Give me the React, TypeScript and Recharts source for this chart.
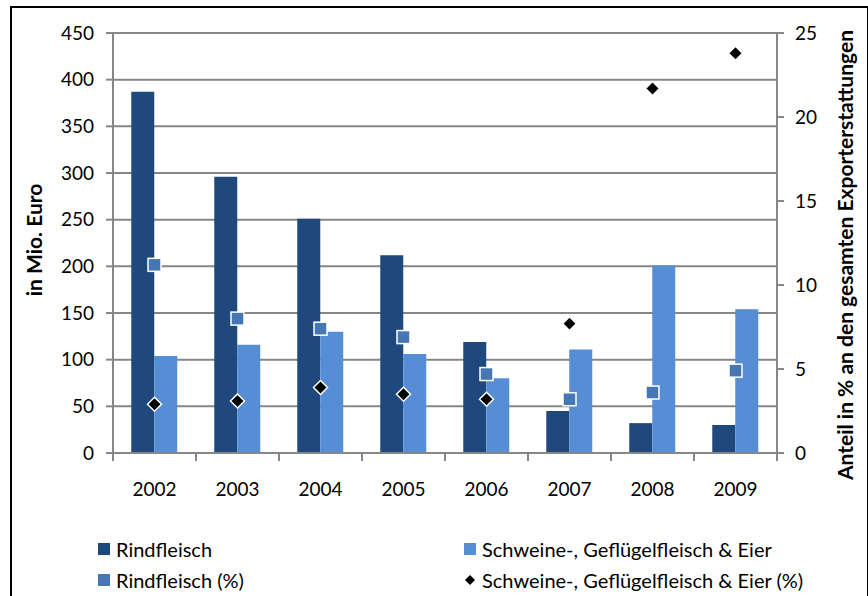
import React from 'react';
import { ComposedChart, Bar, Line, XAxis, YAxis, CartesianGrid } from 'recharts';

// Exporterstattungen 2002–2009
const years = ['2002', '2003', '2004', '2005', '2006', '2007', '2008', '2009'];
const rindfleisch = [387, 296, 251, 212, 119, 45, 32, 30];
const schweine = [104, 116, 130, 106, 80, 111, 201, 154];
const rindfleischPct = [11.2, 8.0, 7.4, 6.9, 4.7, 3.2, 3.6, 4.9];
const schweinePct = [2.9, 3.1, 3.9, 3.5, 3.2, 7.7, 21.7, 23.8];

const leftTicks = [0, 50, 100, 150, 200, 250, 300, 350, 400, 450];
const rightTicks = [0, 5, 10, 15, 20, 25];

const seriesNames = [
  'Rindfleisch',
  'Schweine-, Geflügelfleisch & Eier',
  'Rindfleisch (%)',
  'Schweine-, Geflügelfleisch & Eier (%)',
];

const data = years.map((year, i) => ({
  year,
  rind: rindfleisch[i],
  schwein: schweine[i],
  rindPct: rindfleischPct[i],
  schweinPct: schweinePct[i],
}));

const W = 868;
const H = 596;
const LEFT_AXIS_W = 113;
const RIGHT_AXIS_W = 91;
const PLOT_W = W - LEFT_AXIS_W - RIGHT_AXIS_W;
const BAND = PLOT_W / years.length;

const DARK = '#1F497D';
const LIGHT = '#558ED5';
const MID = '#4677B4';
const AXIS = '#868686';
const FONT = 'Lato, "Open Sans", sans-serif';
const TICK_FS = 19;

const SquareDot = (props: any) => {
  const { cx, cy, index } = props;
  if (cx == null || cy == null) return null;
  const s = 13;
  return (
    <rect
      key={`sq-${index}`}
      x={cx - s / 2}
      y={cy - s / 2}
      width={s}
      height={s}
      fill={MID}
      stroke="#fff"
      strokeWidth={1.5}
    />
  );
};

const DiamondDot = (props: any) => {
  const { cx, cy, index } = props;
  if (cx == null || cy == null) return null;
  const r = 7;
  return (
    <path
      key={`dm-${index}`}
      d={`M${cx},${cy - r} L${cx + r},${cy} L${cx},${cy + r} L${cx - r},${cy} Z`}
      fill="#000"
      stroke="#fff"
      strokeWidth={1.5}
    />
  );
};

const YearTick = (props: any) => {
  const { x, y, payload, index } = props;
  const half = BAND / 2;
  const last = index === years.length - 1;
  return (
    <g>
      <line x1={x - half} y1={y} x2={x - half} y2={y + 8} stroke={AXIS} strokeWidth={2} />
      {last && <line x1={x + half} y1={y} x2={x + half} y2={y + 8} stroke={AXIS} strokeWidth={2} />}
      <text x={x} y={y + 43} textAnchor="middle" fill="#000" fontSize={TICK_FS} fontFamily={FONT}>
        {payload.value}
      </text>
    </g>
  );
};

const LegendSquare = ({ color }: { color: string }) => (
  <span style={{ display: 'inline-block', width: 12, height: 12, background: color }} />
);

const LegendDiamond = () => (
  <svg width={12} height={12} style={{ display: 'block' }}>
    <path d="M6,1 L11,6 L6,11 L1,6 Z" fill="#000" />
  </svg>
);

const legendItems = [
  { name: seriesNames[0], left: 98, top: 549, marker: <LegendSquare color={DARK} /> },
  { name: seriesNames[1], left: 464, top: 549, marker: <LegendSquare color={LIGHT} /> },
  { name: seriesNames[2], left: 98, top: 580, marker: <LegendSquare color={MID} /> },
  { name: seriesNames[3], left: 464, top: 580, marker: <LegendDiamond /> },
];

export default function App() {
  return (
    <div
      style={{
        position: 'absolute',
        left: 0,
        top: 0,
        width: W,
        height: H,
        overflow: 'hidden',
        background: '#fff',
        fontFamily: FONT,
      }}
    >
      <div
        style={{
          position: 'absolute',
          left: 10,
          top: 6,
          width: 855,
          height: 620,
          border: '2px solid #000',
        }}
      />
      <div style={{ position: 'absolute', left: 0, top: 0 }}>
        <ComposedChart
          width={W}
          height={H}
          data={data}
          margin={{ top: 33, right: 0, bottom: 0, left: 0 }}
          barGap={0}
          barCategoryGap="22%"
          style={{ fontFamily: FONT }}
        >
          <CartesianGrid vertical={false} stroke={AXIS} strokeWidth={2} yAxisId="left" />
          <XAxis
            dataKey="year"
            axisLine={{ stroke: AXIS, strokeWidth: 2 }}
            tickLine={false}
            tickSize={0}
            tickMargin={0}
            tick={<YearTick />}
            interval={0}
            height={143}
          />
          <YAxis
            yAxisId="left"
            width={LEFT_AXIS_W}
            domain={[0, 450]}
            ticks={leftTicks}
            interval={0}
            axisLine={{ stroke: AXIS, strokeWidth: 2 }}
            tickLine={{ stroke: AXIS, strokeWidth: 2 }}
            tickSize={7}
            tickMargin={12}
            tick={{ fill: '#000', fontSize: TICK_FS, fontFamily: FONT }}
          />
          <YAxis
            yAxisId="right"
            orientation="right"
            width={RIGHT_AXIS_W}
            domain={[0, 25]}
            ticks={rightTicks}
            interval={0}
            axisLine={{ stroke: AXIS, strokeWidth: 2 }}
            tickLine={{ stroke: AXIS, strokeWidth: 2 }}
            tickSize={7}
            tickMargin={11}
            tick={{ fill: '#000', fontSize: TICK_FS, fontFamily: FONT, textAnchor: 'start' }}
          />
          <Bar yAxisId="left" dataKey="rind" name={seriesNames[0]} fill={DARK} isAnimationActive={false} />
          <Bar yAxisId="left" dataKey="schwein" name={seriesNames[1]} fill={LIGHT} isAnimationActive={false} />
          <Line
            yAxisId="right"
            dataKey="rindPct"
            name={seriesNames[2]}
            stroke="none"
            dot={SquareDot}
            activeDot={false}
            isAnimationActive={false}
          />
          <Line
            yAxisId="right"
            dataKey="schweinPct"
            name={seriesNames[3]}
            stroke="none"
            dot={DiamondDot}
            activeDot={false}
            isAnimationActive={false}
          />
        </ComposedChart>
      </div>
      <div
        style={{
          position: 'absolute',
          left: 33,
          top: 240,
          transform: 'translate(-50%, -50%) rotate(-90deg)',
          whiteSpace: 'nowrap',
          fontWeight: 700,
          fontSize: 21,
          color: '#000',
        }}
      >
        in Mio. Euro
      </div>
      <div
        style={{
          position: 'absolute',
          left: 844,
          top: 255,
          transform: 'translate(-50%, -50%) rotate(-90deg)',
          whiteSpace: 'nowrap',
          fontWeight: 700,
          fontSize: 21,
          color: '#000',
        }}
      >
        Anteil in % an den gesamten Exporterstattungen
      </div>
      {legendItems.map((item) => (
        <div
          key={item.name}
          style={{
            position: 'absolute',
            left: item.left,
            top: item.top,
            transform: 'translateY(-50%)',
            display: 'flex',
            alignItems: 'center',
            gap: 6,
            fontSize: 20,
            color: '#000',
            whiteSpace: 'nowrap',
          }}
        >
          {item.marker}
          <span>{item.name}</span>
        </div>
      ))}
    </div>
  );
}
